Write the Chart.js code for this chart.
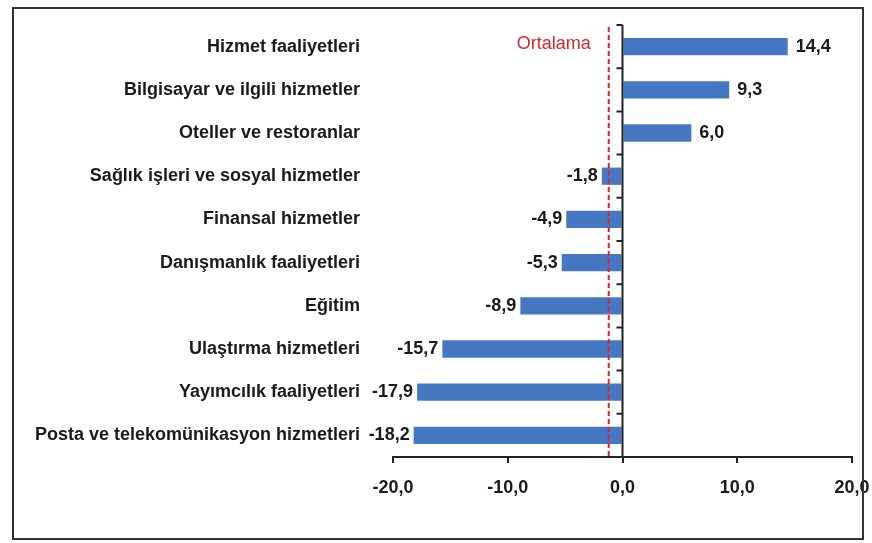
<!DOCTYPE html>
<html><head><meta charset="utf-8">
<script src="https://cdn.jsdelivr.net/npm/chart.js@4/dist/chart.umd.min.js"></script>
<style>
html,body{margin:0;padding:0;background:#fff;}
#wrap{position:absolute;left:0;top:0;width:872px;height:543px;}
#frame{position:absolute;left:12px;top:7px;width:852px;height:533px;border:2px solid #333;box-sizing:border-box;pointer-events:none;}
</style></head>
<body>
<div id="wrap"><canvas id="c" width="872" height="543"></canvas><div id="frame"></div></div>
<script>
const categories = [
  "Hizmet faaliyetleri",
  "Bilgisayar ve ilgili hizmetler",
  "Oteller ve restoranlar",
  "Sağlık işleri ve sosyal hizmetler",
  "Finansal hizmetler",
  "Danışmanlık faaliyetleri",
  "Eğitim",
  "Ulaştırma hizmetleri",
  "Yayımcılık faaliyetleri",
  "Posta ve telekomünikasyon hizmetleri"
];
const values = [14.4, 9.3, 6.0, -1.8, -4.9, -5.3, -8.9, -15.7, -17.9, -18.2];
const averageValue = -1.2;
const averageLabel = "Ortalama";
const xTicks = [-20, -10, 0, 10, 20];

const FONT = "'Liberation Sans', Arial, sans-serif";
const fmt = v => v.toFixed(1).replace('.', ',');

const overlay = {
  id: 'overlay',
  afterDatasetsDraw(chart) {
    const {ctx, chartArea, scales} = chart;
    const x = scales.x, y = scales.y;
    const x0 = x.getPixelForValue(0);
    ctx.save();
    const xa = x.getPixelForValue(averageValue);
    ctx.strokeStyle = '#e0202a';
    ctx.lineWidth = 2;
    ctx.setLineDash([5, 3]);
    ctx.beginPath();
    ctx.moveTo(xa, chartArea.top + 2);
    ctx.lineTo(xa, chartArea.bottom);
    ctx.stroke();
    ctx.setLineDash([]);
    ctx.fillStyle = '#d42a2a';
    ctx.font = "18px " + FONT;
    ctx.textAlign = 'right';
    ctx.textBaseline = 'middle';
    ctx.fillText(averageLabel, xa - 18, y.getPixelForValue(0) - 3);
    ctx.strokeStyle = '#222';
    ctx.lineWidth = 2;
    ctx.beginPath();
    ctx.moveTo(x0, chartArea.top);
    ctx.lineTo(x0, chartArea.bottom);
    ctx.stroke();
    const n = categories.length;
    const step = (chartArea.bottom - chartArea.top) / n;
    ctx.beginPath();
    for (let i = 0; i < n; i++) {
      const yy = chartArea.top + i * step;
      ctx.moveTo(x0, yy);
      ctx.lineTo(x0 - 6, yy);
    }
    ctx.stroke();
    ctx.fillStyle = '#1a1a1a';
    ctx.font = "bold 18px " + FONT;
    const meta = chart.getDatasetMeta(0);
    meta.data.forEach((bar, i) => {
      const v = values[i];
      if (v >= 0) {
        ctx.textAlign = 'left';
        ctx.fillText(fmt(v), bar.x + 8, bar.y);
      } else {
        ctx.textAlign = 'right';
        ctx.fillText(fmt(v), bar.x - 4, bar.y);
      }
    });
    ctx.restore();
  }
};

new Chart(document.getElementById('c'), {
  type: 'bar',
  data: {
    labels: categories,
    datasets: [{
      data: values,
      backgroundColor: '#4677c2',
      borderWidth: 0,
      barPercentage: 0.4,
      categoryPercentage: 1.0
    }]
  },
  options: {
    indexAxis: 'y',
    responsive: false,
    animation: false,
    events: [],
    layout: {padding: {top: 25, right: 20, bottom: 0, left: 0}},
    plugins: {legend: {display: false}, tooltip: {enabled: false}},
    scales: {
      x: {
        min: -20, max: 20,
        afterBuildTicks: s => { s.ticks = xTicks.map(v => ({value: v})); },
        grid: {display: true, drawOnChartArea: false, drawTicks: true, tickLength: 6, color: '#222', lineWidth: 2},
        border: {display: true, color: '#222', width: 2},
        ticks: {
          color: '#1a1a1a',
          font: {family: FONT, size: 18, weight: 'bold'},
          padding: 14,
          maxRotation: 0,
          callback: (v) => fmt(v)
        },
        afterFit: s => { s.height = 86; s.paddingLeft = 0; s.paddingRight = 0; }
      },
      y: {
        grid: {display: false},
        border: {display: false},
        ticks: {
          color: '#1a1a1a',
          font: {family: FONT, size: 18, weight: 'bold'},
          padding: 25,
          autoSkip: false
        },
        afterFit: s => { s.width = 393; s.paddingTop = 0; s.paddingBottom = 0; }
      }
    }
  },
  plugins: [overlay]
});
</script>
</body></html>
